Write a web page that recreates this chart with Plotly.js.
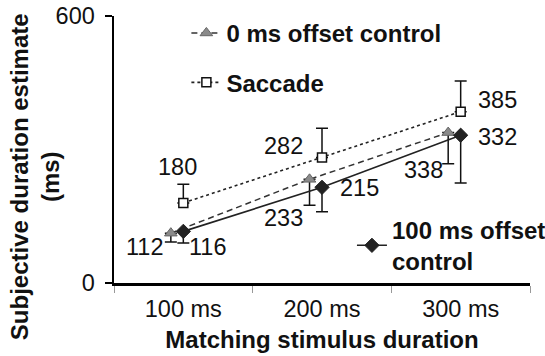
<!DOCTYPE html>
<html>
<head>
<meta charset="utf-8">
<script src="https://cdn.plot.ly/plotly-3.0.1.min.js"></script>
<style>
html,body{margin:0;padding:0;background:#fff;}
#chart{width:545px;height:356px;}
</style>
</head>
<body>
<div id="chart"></div>
<script>
// ---- data ----
var categories = ["100 ms", "200 ms", "300 ms"];
var zeroOffset = [112, 233, 338];          // 0 ms offset control (triangles)
var zeroOffsetErrMinus = [20, 58, 70];
var saccade = [180, 282, 385];             // Saccade (squares)
var saccadeErrPlus = [42, 66, 69];
var hundredOffset = [116, 215, 332];       // 100 ms offset control (diamonds)
var hundredOffsetErrMinus = [26, 55, 107];
var yTicks = [0, 600];

var idx = categories.map(function(c, i){ return i + 1; });
var triShift = -0.09;
var xTri = idx.map(function(v){ return v + triShift; });
var zeros = [0, 0, 0];

var fontFam = "Liberation Sans, Arial, sans-serif";
var regSize = 23.5, boldSize = 24;

var traces = [
  {
    x: xTri, y: zeroOffset, type: "scatter", mode: "lines+markers",
    name: "0 ms offset control", legend: "legend",
    line: {color: "#333", width: 1.5, dash: "6px,4px"},
    marker: {symbol: "triangle-up", size: 11, color: "#8a8a8a", line: {color: "#666", width: 1}},
    error_y: {type: "data", symmetric: false, array: zeros, arrayminus: zeroOffsetErrMinus,
              color: "#111", thickness: 1.5, width: 6}
  },
  {
    x: idx, y: saccade, type: "scatter", mode: "lines+markers",
    name: "Saccade", legend: "legend2",
    line: {color: "#222", width: 1.6, dash: "3px,3px"},
    marker: {symbol: "square", size: 9, color: "#fff", line: {color: "#111", width: 1.5}},
    error_y: {type: "data", symmetric: false, array: saccadeErrPlus, arrayminus: zeros,
              color: "#111", thickness: 1.5, width: 6}
  },
  {
    x: idx, y: hundredOffset, type: "scatter", mode: "lines+markers",
    name: "100 ms offset<br>control", legend: "legend3",
    line: {color: "#222", width: 1.6},
    marker: {symbol: "diamond", size: 11, color: "#222", line: {color: "#222", width: 1}},
    error_y: {type: "data", symmetric: false, array: zeros, arrayminus: hundredOffsetErrMinus,
              color: "#111", thickness: 1.5, width: 6}
  }
];

// value labels
var labelFont = {family: fontFam, size: regSize, color: "#111"};
function lab(x, y, xs, ys){
  return {x: x, y: y, xref: "x", yref: "y", text: String(y), showarrow: false,
          xshift: xs, yshift: ys, font: labelFont, xanchor: "center", yanchor: "middle"};
}
var annotations = [
  lab(idx[0], saccade[0], -6, 36),
  lab(idx[1], saccade[1], -39, 12),
  lab(idx[2], saccade[2], 37, 12),
  lab(xTri[0], zeroOffset[0], -26, -14),
  lab(xTri[1], zeroOffset[1], -26, -39),
  lab(xTri[2], zeroOffset[2], -25, -37),
  lab(idx[0], hundredOffset[0], 24, -16),
  lab(idx[1], hundredOffset[1], 37, -1),
  lab(idx[2], hundredOffset[2], 37, -2),
  {x: -0.19, y: 0.40, xref: "paper", yref: "paper", showarrow: false, textangle: -90,
   text: "Subjective duration estimate<br>(ms)", xanchor: "center", yanchor: "middle",
   font: {family: fontFam, size: boldSize, color: "#111", weight: "bold"}}
];

var legFont = {family: fontFam, size: boldSize, color: "#111", weight: "bold"};
function legendAt(x, y){
  return {x: x, y: y, xref: "paper", yref: "paper", xanchor: "left", yanchor: "middle",
          bgcolor: "rgba(0,0,0,0)", borderwidth: 0, font: legFont, itemwidth: 30};
}

var layout = {
  width: 545, height: 356,
  margin: {l: 114, r: 15, t: 16, b: 73, autoexpand: false},
  paper_bgcolor: "#fff", plot_bgcolor: "#fff",
  font: {family: fontFam, size: regSize, color: "#111"},
  showlegend: true,
  legend: legendAt(0.174, 0.935),
  legend2: legendAt(0.174, 0.75),
  legend3: legendAt(0.572, 0.14),
  xaxis: {
    range: [0.5, 3.5], tickmode: "array", tickvals: idx, ticktext: categories,
    ticks: "", showgrid: false, zeroline: false, showline: true, linecolor: "#000", linewidth: 3,
    ticklabelstandoff: 3, automargin: false,
    tickfont: {family: fontFam, size: regSize, color: "#111"},
    minor: {tickmode: "array", tickvals: [0.5, 1.5, 2.5, 3.5], ticks: "outside", ticklen: 7, tickcolor: "#999", tickwidth: 1, showgrid: false},
    title: {text: "Matching stimulus duration", font: {family: fontFam, size: boldSize, color: "#111", weight: "bold"}, standoff: 10}
  },
  yaxis: {
    range: [0, 600], tickmode: "array", tickvals: yTicks,
    ticks: "outside", ticklen: 7, tickwidth: 2, tickcolor: "#000",
    ticklabelstandoff: 5, automargin: false,
    showgrid: false, zeroline: false, showline: true, linecolor: "#000", linewidth: 2.5,
    tickfont: {family: fontFam, size: regSize, color: "#111"}
  },
  annotations: annotations
};

Plotly.newPlot("chart", traces, layout, {displayModeBar: false, staticPlot: true});
</script>
</body>
</html>
